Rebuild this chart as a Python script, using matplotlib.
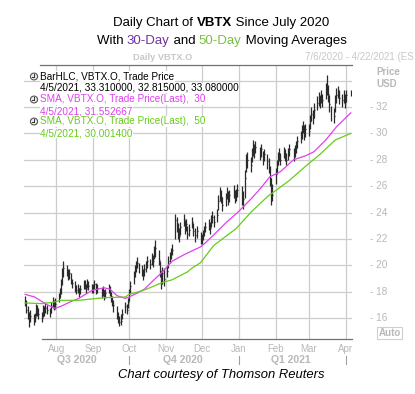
import numpy as np
import pandas as pd
import matplotlib
matplotlib.use("Agg")
import matplotlib.pyplot as plt
import matplotlib.dates as mdates
import matplotlib.transforms as mtransforms
from matplotlib.patches import Circle, Rectangle
from matplotlib.lines import Line2D

plt.rcParams['font.family'] = ['Liberation Sans', 'DejaVu Sans']

# ---------------- data ----------------
start_date = "2020-07-06"
end_date = "2021-04-05"
market_holidays = ["2020-09-07", "2020-11-26", "2020-12-25", "2021-01-01",
                   "2021-01-18", "2021-02-15", "2021-04-02"]

close_jul = [17.3, 16.6, 16.4, 15.9, 16.2, 15.8, 16.1, 16.8, 16.5, 16.3, 16.0, 16.7, 16.5, 16.8, 16.6, 16.4, 16.9, 17.2, 16.9, 17.1]
high_jul = [17.7, 17.4, 16.9, 16.5, 16.6, 16.3, 16.4, 17.1, 17.0, 16.8, 16.5, 17.0, 16.9, 17.2, 17.0, 16.8, 17.2, 17.6, 17.4, 17.5]
low_jul = [16.9, 16.4, 15.9, 15.3, 15.7, 15.5, 15.7, 16.2, 16.2, 15.9, 15.7, 16.1, 16.2, 16.4, 16.3, 16.1, 16.4, 16.8, 16.6, 16.7]

close_aug = [17.6, 17.9, 18.6, 19.4, 19.8, 19.6, 19.2, 19.4, 18.9, 18.7, 18.4, 18.1, 18.3, 17.9, 18.2, 18.6, 18.5, 18.2, 18.7, 18.4, 18.2]
high_aug = [17.9, 18.3, 19.0, 19.8, 20.3, 20.0, 19.7, 19.7, 19.4, 19.0, 18.8, 18.5, 18.6, 18.3, 18.5, 18.9, 18.9, 18.6, 19.0, 18.8, 18.6]
low_aug = [17.2, 17.5, 17.8, 18.5, 19.1, 19.2, 18.9, 19.0, 18.6, 18.3, 18.0, 17.8, 17.9, 17.6, 17.8, 18.2, 18.2, 17.9, 18.3, 18.1, 17.9]

close_sep = [18.3, 18.6, 18.0, 18.3, 17.8, 18.1, 17.7, 17.9, 18.3, 18.0, 17.6, 17.2, 17.0, 16.2, 16.0, 15.7, 15.8, 16.3, 16.9, 16.6, 17.2]
high_sep = [18.6, 18.9, 18.7, 18.6, 18.3, 18.4, 18.1, 18.2, 18.6, 18.4, 18.0, 17.7, 17.4, 16.9, 16.5, 16.2, 16.3, 16.7, 17.2, 17.1, 17.5]
low_sep = [17.9, 18.2, 17.8, 17.9, 17.5, 17.7, 17.4, 17.5, 17.9, 17.7, 17.2, 16.9, 16.5, 15.9, 15.6, 15.4, 15.5, 15.9, 16.4, 16.3, 16.8]

close_oct = [17.8, 18.4, 19.2, 19.6, 19.9, 20.2, 19.8, 19.6, 19.3, 19.7, 19.9, 20.3, 20.1, 20.5, 20.3, 21.0, 21.3, 20.4, 19.6, 18.8, 19.4, 19.0]
high_oct = [18.2, 18.8, 19.6, 20.0, 20.3, 20.6, 20.2, 20.0, 19.7, 20.1, 20.3, 20.7, 20.5, 20.9, 20.8, 21.5, 21.9, 21.2, 20.3, 19.6, 19.9, 19.8]
low_oct = [17.3, 17.9, 18.6, 19.1, 19.5, 19.8, 19.4, 19.2, 18.9, 19.2, 19.5, 19.8, 19.7, 20.0, 19.9, 20.5, 20.6, 20.0, 19.1, 18.2, 18.6, 18.4]

close_nov = [19.6, 20.3, 20.6, 20.9, 21.2, 23.4, 23.0, 22.5, 22.2, 22.9, 23.5, 22.8, 23.1, 22.4, 22.7, 23.3, 22.6, 22.3, 22.6, 21.9]
high_nov = [20.0, 20.7, 21.0, 21.3, 21.6, 23.9, 23.7, 23.2, 22.8, 23.3, 23.9, 23.4, 23.5, 23.0, 23.1, 23.7, 23.2, 22.8, 23.0, 22.5]
low_nov = [19.1, 19.8, 20.2, 20.5, 20.8, 22.0, 22.5, 22.0, 21.8, 22.3, 23.0, 22.4, 22.6, 22.0, 22.2, 22.8, 22.2, 21.8, 22.1, 21.6]

close_dec = [22.0, 22.3, 22.6, 22.9, 23.1, 22.8, 23.4, 23.7, 23.3, 23.8, 24.9, 25.4, 25.2, 24.6, 25.1, 25.5, 25.0, 25.3, 25.6, 25.1, 25.4, 25.7]
high_dec = [22.4, 22.7, 23.0, 23.3, 23.5, 23.3, 23.8, 24.1, 23.8, 24.3, 25.3, 25.9, 25.7, 25.2, 25.5, 25.9, 25.6, 25.7, 26.1, 25.7, 25.8, 26.2]
low_dec = [21.6, 21.9, 22.2, 22.5, 22.7, 22.4, 22.9, 23.2, 22.9, 23.3, 24.2, 24.9, 24.7, 24.1, 24.5, 25.0, 24.6, 24.8, 25.1, 24.7, 24.9, 25.2]

close_jan = [25.2, 25.0, 26.6, 27.8, 28.0, 27.6, 28.4, 28.9, 28.6, 29.0, 28.5, 28.8, 28.1, 28.4, 27.9, 27.6, 26.6, 25.7, 25.3]
high_jan = [26.0, 25.6, 27.2, 28.4, 28.6, 28.2, 28.9, 29.5, 29.2, 29.4, 29.0, 29.2, 28.7, 28.8, 28.4, 28.1, 27.5, 26.6, 26.2]
low_jan = [24.6, 24.3, 25.1, 27.1, 27.4, 27.1, 27.8, 28.3, 28.1, 28.5, 28.0, 28.2, 27.6, 27.9, 27.3, 27.0, 26.0, 24.6, 24.9]

close_feb = [26.9, 27.6, 28.1, 28.4, 28.0, 28.6, 28.3, 28.0, 28.5, 28.8, 28.4, 28.7, 29.0, 29.4, 29.8, 30.2, 30.5, 30.0, 30.3]
high_feb = [27.4, 28.0, 28.6, 28.9, 28.5, 29.0, 28.8, 28.5, 28.9, 29.2, 28.9, 29.1, 29.4, 29.8, 30.2, 30.6, 30.9, 30.6, 30.7]
low_feb = [26.2, 27.0, 27.6, 27.9, 27.6, 28.1, 27.9, 27.6, 28.0, 28.3, 27.9, 28.2, 28.5, 28.9, 29.3, 29.6, 30.0, 29.5, 29.7]

close_mar = [30.2, 30.9, 31.5, 31.2, 31.8, 32.3, 32.6, 32.4, 32.8, 32.5, 33.2, 33.6, 33.0, 32.2, 31.5, 31.3, 32.4, 32.9, 33.2, 32.7, 32.5, 32.8, 32.4]
high_mar = [30.7, 31.4, 32.0, 31.8, 32.3, 32.8, 33.1, 32.9, 33.3, 33.0, 33.8, 34.4, 33.7, 32.9, 32.1, 31.9, 32.9, 33.4, 33.6, 33.3, 33.0, 33.3, 33.0]
low_mar = [29.8, 30.3, 30.9, 30.7, 31.2, 31.8, 32.1, 31.9, 32.3, 32.0, 32.6, 32.9, 32.4, 31.6, 30.9, 30.8, 31.6, 32.3, 32.7, 32.2, 32.0, 32.3, 31.9]

close_apr = [32.9, 33.08]
high_apr = [33.3, 33.31]
low_apr = [32.4, 32.815]

sma30_dates = ["2020-07-06", "2020-07-14", "2020-07-21", "2020-07-27", "2020-07-31", "2020-08-05",
               "2020-08-12", "2020-08-20", "2020-08-31", "2020-09-10", "2020-09-15", "2020-09-21",
               "2020-09-28", "2020-10-01", "2020-10-08", "2020-10-14", "2020-10-22", "2020-10-29",
               "2020-11-06", "2020-11-16", "2020-11-23", "2020-11-30", "2020-12-04", "2020-12-11",
               "2020-12-21", "2020-12-31", "2021-01-11", "2021-01-19", "2021-01-27", "2021-02-05",
               "2021-02-16", "2021-02-26", "2021-03-05", "2021-03-15", "2021-03-24", "2021-04-05"]
sma30_vals = [17.8, 17.6, 17.2, 16.9, 16.75, 16.9,
              17.2, 17.5, 18.1, 18.3, 18.2, 17.7,
              17.5, 17.6, 17.9, 18.2, 18.9, 19.5,
              20.3, 20.8, 21.1, 21.4, 21.7, 22.3,
              23.2, 24.0, 25.0, 25.8, 26.7, 27.1,
              28.0, 28.3, 28.6, 29.5, 30.5, 31.552667]

sma50_dates = ["2020-07-06", "2020-07-20", "2020-07-29", "2020-08-05", "2020-08-20", "2020-09-10",
               "2020-09-28", "2020-10-01", "2020-10-13", "2020-10-29", "2020-11-06", "2020-11-19",
               "2020-11-23", "2020-11-30", "2020-12-11", "2020-12-30", "2021-01-11", "2021-01-25",
               "2021-02-03", "2021-02-12", "2021-02-26", "2021-03-10", "2021-03-23", "2021-04-05"]
sma50_vals = [17.15, 17.1, 17.2, 17.35, 17.35, 17.55,
              17.6, 17.8, 18.1, 18.7, 18.9, 19.5,
              19.8, 20.2, 21.5, 22.8, 24.0, 25.2,
              25.8, 26.4, 27.5, 28.4, 29.5, 30.001400]

month_ticks = ["2020-08-01", "2020-09-01", "2020-10-01", "2020-11-01", "2020-12-01",
               "2021-01-01", "2021-02-01", "2021-03-01", "2021-04-01"]
month_labels = ["Aug", "Sep", "Oct", "Nov", "Dec", "Jan", "Feb", "Mar", "Apr"]
quarter_labels = ["Q3 2020", "Q4 2020", "Q1 2021"]
quarter_centers = ["2020-08-18", "2020-11-15", "2021-02-14"]
quarter_breaks = ["2020-10-01", "2021-01-01", "2021-04-01"]
price_ticks = [16, 18, 20, 22, 24, 26, 28, 30, 32]
grid_prices = [16, 18, 20, 22, 24, 26, 28, 30, 32, 34]

closes = close_jul + close_aug + close_sep + close_oct + close_nov + close_dec + close_jan + close_feb + close_mar + close_apr
highs = high_jul + high_aug + high_sep + high_oct + high_nov + high_dec + high_jan + high_feb + high_mar + high_apr
lows = low_jul + low_aug + low_sep + low_oct + low_nov + low_dec + low_jan + low_feb + low_mar + low_apr

dates = pd.bdate_range(start_date, end_date)
dates = dates[~dates.isin(pd.to_datetime(market_holidays))]
n = min(len(dates), len(closes))
dates = dates[:n]
closes, highs, lows = closes[:n], highs[:n], lows[:n]

# ---------------- figure ----------------
W, H = 415, 394
fig = plt.figure(figsize=(W / 100, H / 100), dpi=100)

def fx(px):
    return px / W

def fy(py):
    return 1 - py / H

L, R, T, B = 24, 352, 65, 339
ax = fig.add_axes([fx(L), fy(B), fx(R) - fx(L), fy(T) - fy(B)])
for s in ax.spines.values():
    s.set_visible(False)

x0 = mdates.date2num(pd.Timestamp("2020-07-05"))
x1 = mdates.date2num(pd.Timestamp("2021-04-06"))
ax.set_xlim(x0, x1)
ax.set_ylim(14.42, 35.18)

gridc = '#cdcdcd'
for p in grid_prices:
    ax.axhline(p, color=gridc, lw=0.9, zorder=0)
mt = mdates.date2num(pd.to_datetime(month_ticks))
for m in mt:
    ax.axvline(m, color=gridc, lw=0.9, zorder=0)
ax.set_xticks([])
ax.set_yticks([])

# top / bottom frame lines
ax.add_line(Line2D([(40 - L) / (R - L), 1], [1, 1], transform=ax.transAxes,
                   color='#707070', lw=0.9, clip_on=False))
ax.add_line(Line2D([(42 - L) / (R - L), 1], [0, 0], transform=ax.transAxes,
                   color='#707070', lw=0.9, clip_on=False))

# HLC bars
dn = mdates.date2num(dates)
ax.vlines(dn, lows, highs, color='#2a2a2a', lw=0.9, zorder=3)
ax.hlines(closes, dn, dn + 0.8, color='#2a2a2a', lw=0.9, zorder=3)

# moving averages
ax.plot(pd.to_datetime(sma30_dates), sma30_vals, color='#e040f0', lw=0.9, zorder=4)
ax.plot(pd.to_datetime(sma50_dates), sma50_vals, color='#66cc1a', lw=0.9, zorder=4)

tlab = '#b8b8b8'
# y labels
trans_y = mtransforms.blended_transform_factory(fig.transFigure, ax.transData)
for p in price_ticks:
    ax.text(fx(370), p, "- " + str(p), transform=trans_y, fontsize=7.2, color=tlab,
            va='center', ha='left')
fig.text(fx(376), fy(72), "Price", fontsize=7, fontweight='bold', color=tlab, va='center', ha='left')
fig.text(fx(376), fy(84), "USD", fontsize=7, fontweight='bold', color=tlab, va='center', ha='left')
fig.text(fx(389.5), fy(333), "Auto", fontsize=7, fontweight='bold', color=tlab, va='center', ha='center')
fig.patches.append(Rectangle((fx(377), fy(339)), fx(402) - fx(377), fy(327) - fy(339),
                             transform=fig.transFigure, fill=False, edgecolor='#cfcfcf', lw=0.8))

# x labels
trans_x = mtransforms.blended_transform_factory(ax.transData, fig.transFigure)
for m, lab in zip(mt, month_labels):
    ax.text(m, fy(349), lab, transform=trans_x, fontsize=7, color=tlab, ha='center', va='center')
for c, lab in zip(pd.to_datetime(quarter_centers), quarter_labels):
    ax.text(mdates.date2num(c), fy(360), lab, transform=trans_x, fontsize=7.5,
            fontweight='bold', color=tlab, ha='center', va='center')
for b in pd.to_datetime(quarter_breaks):
    bx = mdates.date2num(b)
    ax.add_line(Line2D([bx, bx], [fy(356), fy(364)], transform=trans_x, color='#a0a0a0',
                       lw=0.8, clip_on=False))

# header inside chart
fig.text(fx(133), fy(57.5), "Daily VBTX.O", fontsize=6.7, fontweight='bold', color='#c8c8c8',
         va='center', ha='left')
fig.text(fx(414), fy(57.5), "7/6/2020 - 4/22/2021 (ES", fontsize=7, color='#c8c8c8',
         va='center', ha='right')

# legend block
leg = [("BarHLC, VBTX.O, Trade Price", '#000000', 76.5, True),
       ("4/5/2021, 33.310000, 32.815000, 33.080000", '#000000', 88, False),
       ("SMA, VBTX.O, Trade Price(Last),  30", '#e040f0', 99.5, True),
       ("4/5/2021, 31.552667", '#e040f0', 111, False),
       ("SMA, VBTX.O, Trade Price(Last),  50", '#66cc1a', 121.5, True),
       ("4/5/2021, 30.001400", '#66cc1a', 133, False)]
for txt, col, yy, icon in leg:
    fig.text(fx(40), fy(yy), txt, fontsize=7.2, color=col, va='center', ha='left',
             bbox=dict(facecolor='white', edgecolor='none', pad=0.3))
    if icon:
        cx, cy = fx(34), fy(yy)
        fig.patches.append(Circle((cx, cy), 3.6 / W, transform=fig.transFigure,
                                  facecolor='#e8e8e8', edgecolor='#555555', lw=0.8))
        fig.lines.append(Line2D([cx, cx], [cy, cy + 2.5 / H], transform=fig.transFigure,
                                color='#333333', lw=0.7))
        fig.lines.append(Line2D([cx, cx - 2.0 / W], [cy, cy], transform=fig.transFigure,
                                color='#333333', lw=0.7))

# title with mixed styles
renderer = fig.canvas.get_renderer()

def centered_pieces(pieces, ycen, size):
    texts = []
    for s, col, wt in pieces:
        t = fig.text(0, fy(ycen), s, fontsize=size, color=col, fontweight=wt,
                     va='center', ha='left')
        texts.append(t)
    widths = [t.get_window_extent(renderer).width for t in texts]
    total = sum(widths)
    xs = 221.5 - total / 2
    for t, w in zip(texts, widths):
        t.set_x(fx(xs))
        xs += w

centered_pieces([("Daily Chart of ", 'black', 'normal'), ("VBTX", 'black', 'bold'),
                 (" Since July 2020", 'black', 'normal')], 23, 9.5)
centered_pieces([("With ", 'black', 'normal'), ("30-Day", '#7030a0', 'normal'),
                 (" and ", 'black', 'normal'), ("50-Day", '#7ac143', 'normal'),
                 (" Moving Averages", 'black', 'normal')], 41, 9.5)

fig.text(fx(221.5), fy(375), "Chart courtesy of Thomson Reuters", fontsize=9.4,
         style='italic', color='black', ha='center', va='center')

fig.savefig("out.png", dpi=100)
